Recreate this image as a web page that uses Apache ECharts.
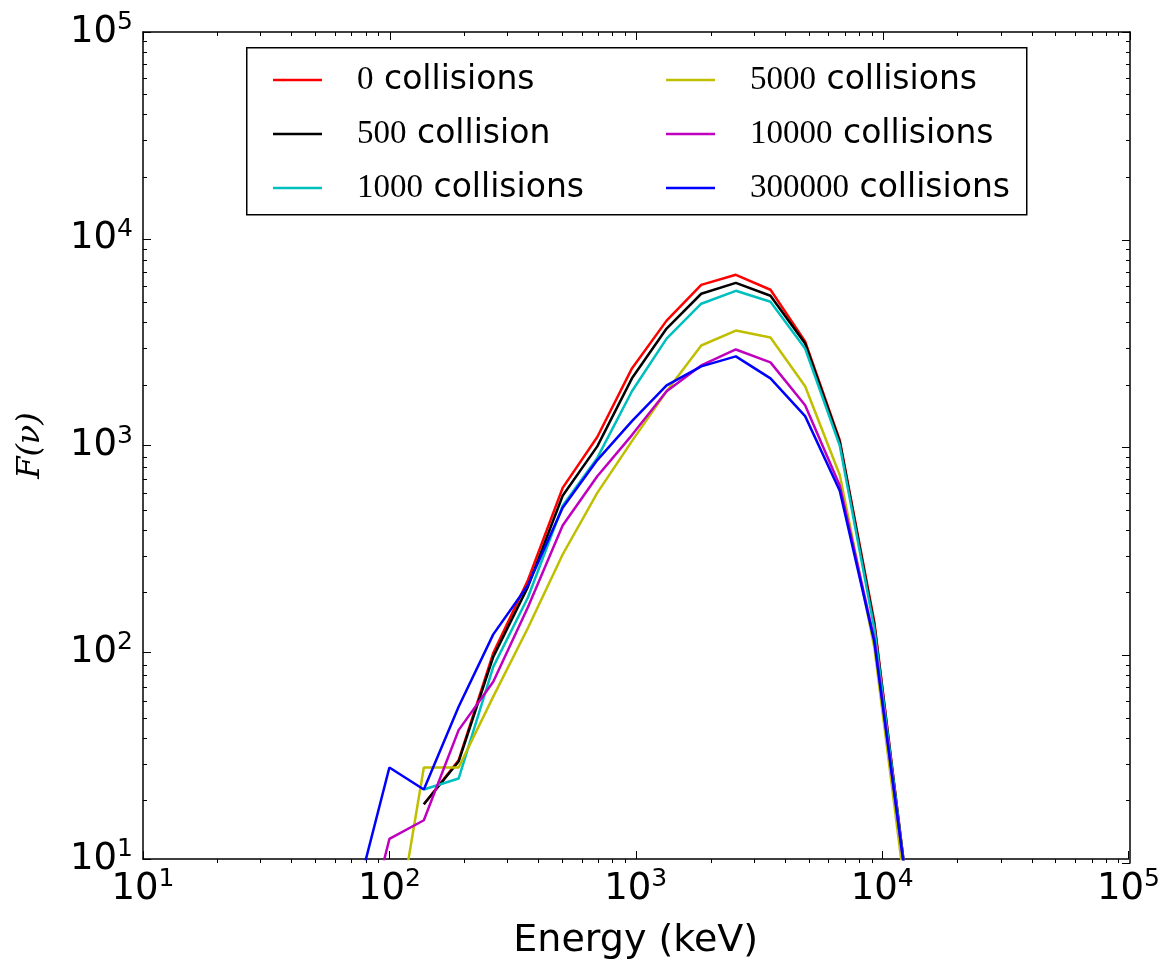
<!DOCTYPE html>
<html>
<head>
<meta charset="utf-8">
<script src="https://cdn.jsdelivr.net/npm/echarts@6/dist/echarts.min.js"></script>
<style>
html,body{margin:0;padding:0;background:#fff;}
#chart{width:1163px;height:965px;}
</style>
</head>
<body>
<div id="chart"></div>
<script>
// Energy bins (keV)
const energy = [72, 100, 138, 191, 264, 365, 505, 698, 965, 1334, 1844, 2548, 3522, 4869, 6730, 9302, 12858];
// F(nu) per series
const c0      = [null, null, 18.4, 30, 99, 223, 624, 1100, 2360, 4018, 5985, 6692, 5666, 3185, 1060, 140, 6];
const c500    = [null, null, 18.4, 29.6, 95, 207, 571, 990, 2113, 3680, 5420, 6120, 5300, 3113, 1040, 135, 6];
const c1000   = [null, null, 21.7, 24.5, 85, 184, 511, 871, 1830, 3290, 4850, 5600, 4960, 2947, 1000, 130, 6];
const c5000   = [null, 2.8, 27.7, 27.7, 61, 131, 297, 590, 1050, 1830, 3046, 3597, 3327, 1933, 720, 105, 5];
const c10000  = [2.6, 12.5, 15.4, 42, 72, 165, 410, 710, 1123, 1830, 2440, 2914, 2524, 1567, 640, 115, 6];
const c300000 = [6, 27.7, 21.7, 54.5, 122, 211, 500, 850, 1312, 1955, 2414, 2698, 2113, 1387, 604, 112, 6];

const seriesNums = ['0', '500', '1000', '5000', '10000', '300000'];
const seriesWords = ['collisions', 'collision', 'collisions', 'collisions', 'collisions', 'collisions'];
const seriesColors = ['#ff0000', '#000000', '#00bfbf', '#bfbf00', '#bf00bf', '#0000ff'];
const seriesData = [c0, c500, c1000, c5000, c10000, c300000];

const majorTicks = [10, 100, 1000, 10000, 100000];
const minorTicks = [];
for (let d = 10; d < 100000; d *= 10) {
  for (let m = 2; m <= 9; m++) minorTicks.push(m * d);
}

const names = seriesNums.map((n, i) => n + ' ' + seriesWords[i]);

const chart = echarts.init(document.getElementById('chart'), null, {renderer: 'canvas'});

const labelFmt = function (v) {
  const e = Math.round(Math.log10(v));
  return '{b|10}{s|' + e + '}';
};
const labelRich = {
  b: {fontSize: 37, fontFamily: 'DejaVu Sans', color: '#000', lineHeight: 44},
  s: {fontSize: 25, fontFamily: 'DejaVu Sans', color: '#000', verticalAlign: 'top', lineHeight: 26}
};

const gridBox = {left: 143, top: 32, right: 33, bottom: 102};
const axisLineStyle = {color: '#000', width: 1.5};

function xAx(gridIndex, position, ticks, len, showLine, showLabel, extra) {
  return Object.assign({
    type: 'log', logBase: 10, min: 10, max: 100000, gridIndex: gridIndex, position: position,
    axisLine: {show: showLine, onZero: false, lineStyle: axisLineStyle},
    axisTick: {show: true, inside: true, length: len, customValues: ticks, lineStyle: {color: '#000', width: 1}},
    axisLabel: showLabel ? {show: true, customValues: majorTicks, formatter: labelFmt, rich: labelRich, margin: 8} : {show: false},
    splitLine: {show: false}, minorTick: {show: false}
  }, extra || {});
}
function yAx(gridIndex, position, ticks, len, showLine, showLabel, extra) {
  return Object.assign({
    type: 'log', logBase: 10, min: 10, max: 100000, gridIndex: gridIndex, position: position,
    axisLine: {show: showLine, onZero: false, lineStyle: axisLineStyle},
    axisTick: {show: true, inside: true, length: len, customValues: ticks, lineStyle: {color: '#000', width: 1}},
    axisLabel: showLabel ? {show: true, customValues: majorTicks, formatter: labelFmt, rich: labelRich, margin: 10} : {show: false},
    splitLine: {show: false}, minorTick: {show: false}
  }, extra || {});
}

const legendRich = {
  n: {fontSize: 33, fontFamily: 'Liberation Serif', color: '#000', padding: [0, 0, 0, 30]},
  t: {fontSize: 33, fontFamily: 'DejaVu Sans', color: '#000'}
};
const legendFmt = function (name) {
  const i = names.indexOf(name);
  return '{n|' + seriesNums[i] + '}{t| ' + seriesWords[i] + '}';
};
function legendAt(left, items) {
  return {
    orient: 'vertical', left: left, top: 57, itemGap: 18, itemWidth: 49, itemHeight: 2.5,
    icon: 'rect', data: items, selectedMode: false,
    formatter: legendFmt, textStyle: {rich: legendRich, lineHeight: 36}
  };
}

const option = {
  animation: false,
  backgroundColor: '#fff',
  grid: [gridBox, gridBox, gridBox, gridBox].map(g => Object.assign({}, g)),
  xAxis: [
    xAx(0, 'bottom', majorTicks, 8, true, true, {
      name: 'Energy (keV)', nameLocation: 'middle', nameGap: 63,
      nameTextStyle: {fontSize: 38, fontFamily: 'DejaVu Sans', color: '#000'}
    }),
    xAx(1, 'bottom', minorTicks, 4, false, false),
    xAx(2, 'top', majorTicks, 8, true, false),
    xAx(3, 'top', minorTicks, 4, false, false)
  ],
  yAxis: [
    yAx(0, 'left', majorTicks, 8, true, true, {
      name: 'F(\u03BD)', nameLocation: 'middle', nameGap: 96, nameRotate: 90,
      nameTextStyle: {fontSize: 32, fontFamily: 'DejaVu Serif', fontStyle: 'italic', color: '#000'}
    }),
    yAx(1, 'left', minorTicks, 4, false, false),
    yAx(2, 'right', majorTicks, 8, true, false),
    yAx(3, 'right', minorTicks, 4, false, false)
  ],
  legend: [legendAt(268, names.slice(0, 3)), legendAt(661, names.slice(3, 6))],
  graphic: [{
    type: 'rect', left: 246, top: 47, z: 0,
    shape: {width: 780, height: 167},
    style: {fill: '#fff', stroke: '#000', lineWidth: 1.5}
  }],
  series: seriesData.map((arr, i) => ({
    name: names[i],
    type: 'line',
    xAxisIndex: 0, yAxisIndex: 0,
    data: energy.map((e, k) => [e, arr[k]]).filter(p => p[1] !== null),
    showSymbol: false, symbol: 'none',
    lineStyle: {color: seriesColors[i], width: 2.5},
    itemStyle: {color: seriesColors[i]},
    clip: true, z: 2 + i
  }))
};
chart.setOption(option);
</script>
</body>
</html>
